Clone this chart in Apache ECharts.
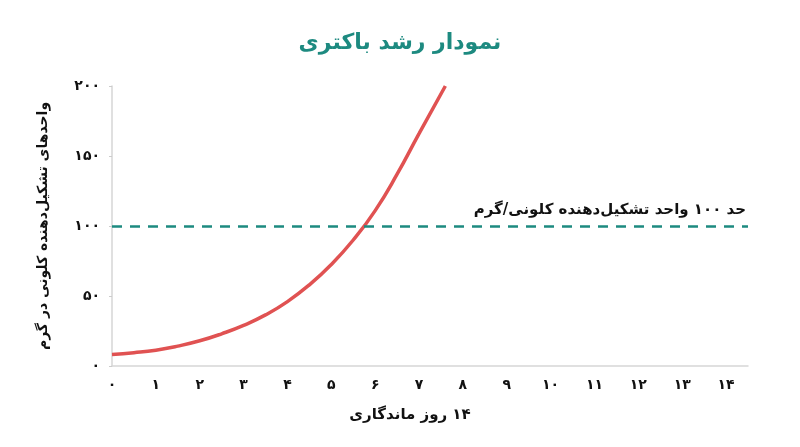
<!DOCTYPE html>
<html>
<head>
<meta charset="utf-8">
<script src="https://cdn.jsdelivr.net/npm/echarts@6/dist/echarts.min.js"></script>
<style>
    html, body { margin: 0; padding: 0; background: #fff; }
    #main { width: 800px; height: 447px; }
</style>
</head>
<body>
<div id="main"></div>
<script>
// روز و تعداد کلونی (خوانده شده از تصویر)
var days = [0, 0.5, 1, 1.5, 2, 2.5, 3, 3.5, 4, 4.5, 5, 5.5, 6, 6.5, 7, 7.6];
var cfu = [8.2, 9.5, 11.3, 14.2, 18, 23, 29, 36.5, 46, 58, 72.5, 90, 111, 137, 166, 200];
var limitValue = 100;
var faDigits = ['۰', '۱', '۲', '۳', '۴', '۵', '۶', '۷', '۸', '۹'];

function toFa(n) {
    return String(n).replace(/[0-9]/g, function (d) { return faDigits[+d]; });
}

var font = 'DejaVu Sans';
var points = [];
for (var i = 0; i < days.length; i++) {
    points.push([days[i], cfu[i]]);
}

var nameStyle = {fontFamily: font, fontSize: 15, fontWeight: 'bold', color: '#111'};

var myChart = echarts.init(document.getElementById('main'));
var option = {
    backgroundColor: '#fff',
    animation: false,
    title: {
        text: 'نمودار رشد باکتری',
        left: 'center',
        top: 27,
        textStyle: {fontFamily: font, fontSize: 22, fontWeight: 'bold', color: '#1d8a80'}
    },
    grid: {left: 112, right: 52, top: 86, bottom: 81},
    xAxis: {
        type: 'value',
        min: 0,
        max: 14.5,
        interval: 1,
        // عدد جدا نوشته می‌شود تا در سمت راست بماند
        name: '{t|روز ماندگاری}{n| ' + toFa(14) + '}',
        nameLocation: 'middle',
        nameGap: 42,
        nameTextStyle: {
            padding: [0, 40, 0, 0],
            rich: {n: nameStyle, t: nameStyle}
        },
        axisLine: {lineStyle: {color: '#d6d6d6', width: 1.5}},
        axisTick: {show: false},
        splitLine: {show: false},
        axisLabel: {
            fontFamily: font, fontSize: 14, fontWeight: 'bold', color: '#111', margin: 12,
            formatter: function (v) { return v % 1 === 0 ? toFa(v) : ''; }
        }
    },
    yAxis: {
        type: 'value',
        min: 0,
        max: 200,
        interval: 50,
        name: 'واحدهای تشکیل‌دهنده کلونی در گرم',
        nameLocation: 'middle',
        nameRotate: 90,
        nameGap: 62,
        nameTextStyle: {fontFamily: font, fontSize: 14, fontWeight: 'bold', color: '#111'},
        axisLine: {show: true, lineStyle: {color: '#d6d6d6', width: 1.5}},
        axisTick: {show: true, length: 3, lineStyle: {color: '#ccc'}},
        splitLine: {show: false},
        axisLabel: {
            fontFamily: font, fontSize: 14, fontWeight: 'bold', color: '#111', margin: 12,
            formatter: function (v) { return toFa(v); }
        }
    },
    series: [
        {
            type: 'line',
            data: points,
            smooth: true,
            symbol: 'none',
            lineStyle: {color: '#e05252', width: 3.5},
            markLine: {
                silent: true,
                symbol: 'none',
                lineStyle: {color: '#1d8a80', width: 2.5, type: [10, 8]},
                label: {
                    position: 'insideEndTop',
                    formatter: 'حد ' + toFa(limitValue) + ' واحد تشکیل‌دهنده کلونی/گرم',
                    fontFamily: font, fontSize: 15, fontWeight: 'bold', color: '#111',
                    distance: [2, 8]
                },
                data: [{yAxis: limitValue}]
            }
        }
    ]
};
myChart.setOption(option);
</script>
</body>
</html>
